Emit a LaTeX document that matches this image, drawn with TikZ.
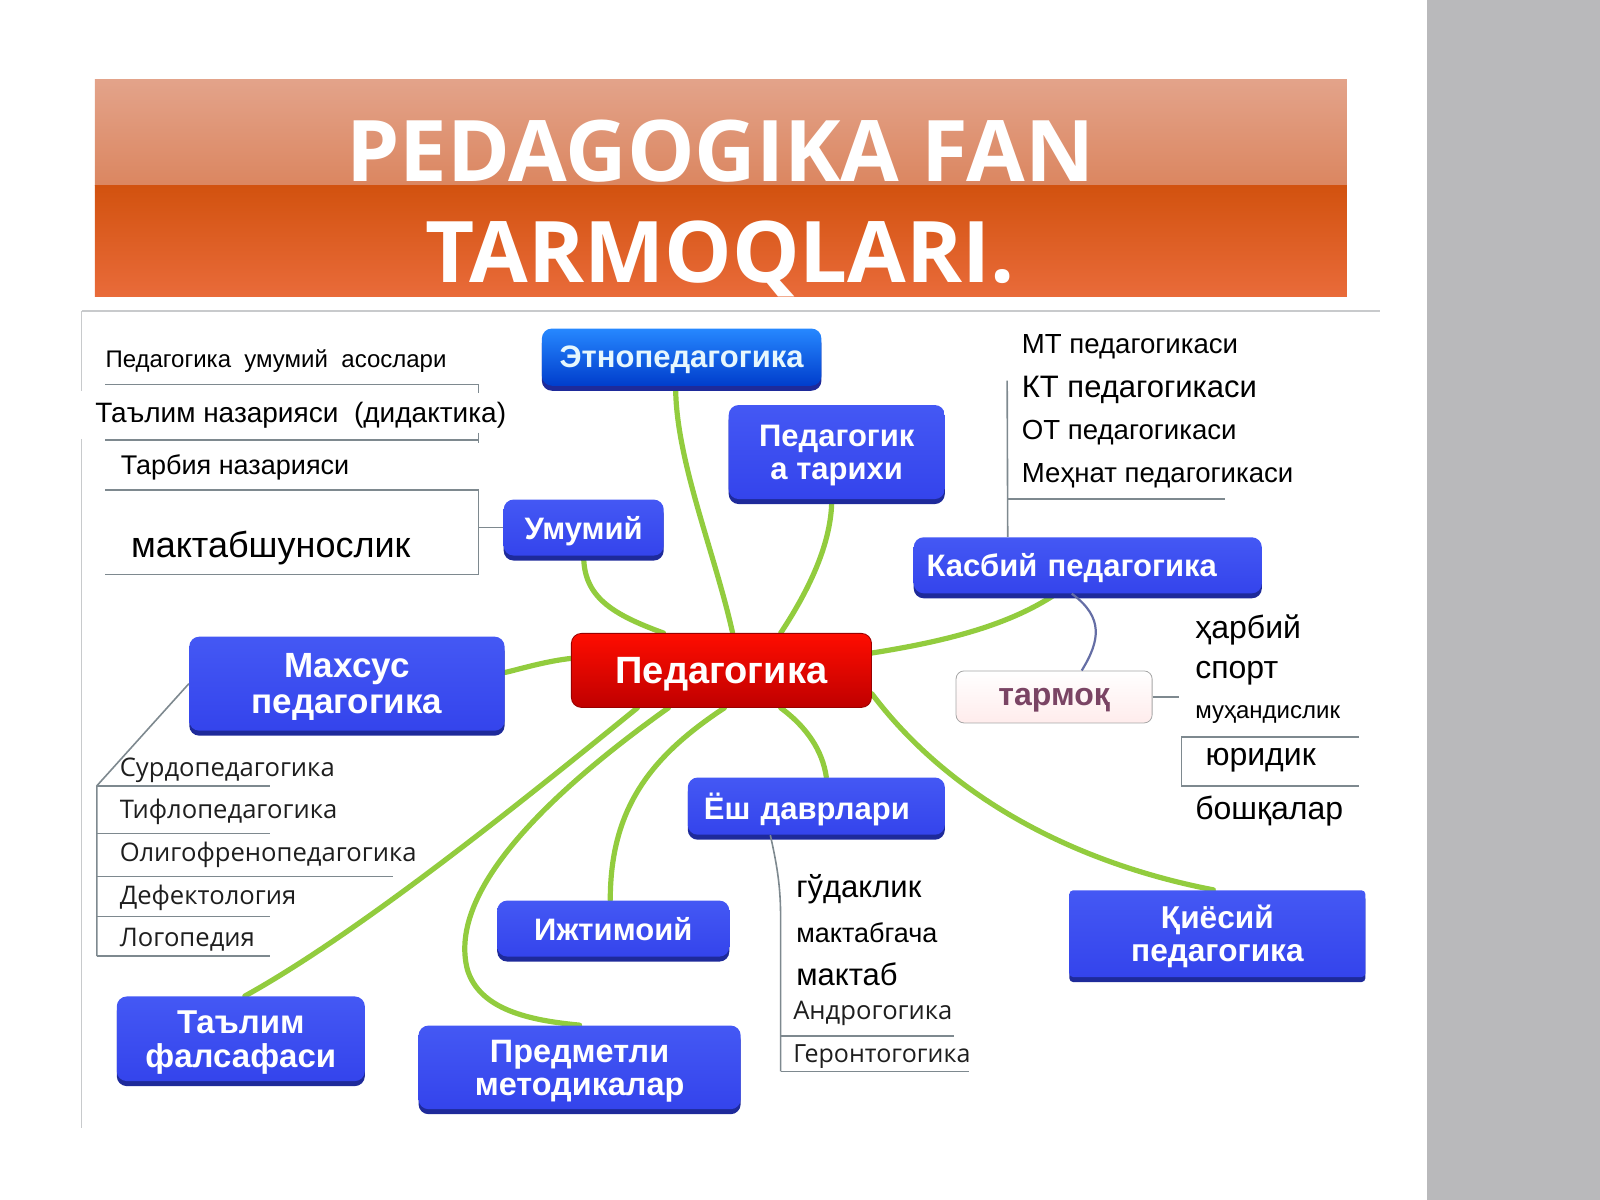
\documentclass[tikz,border=0pt]{standalone}
\usepackage{fontspec}
\setmainfont{Liberation Sans}
\newfontfamily\titlefont{Open Sans}
\newfontfamily\listfont{Open Sans}
\usepackage{tikz}
\usetikzlibrary{shadows,backgrounds}
\definecolor{boxblue}{HTML}{3444EC}
\definecolor{boxtop}{HTML}{4458F4}
\definecolor{boxshade}{HTML}{1E2A9A}
\definecolor{twiggreen}{HTML}{92CC3E}
\definecolor{rulegray}{HTML}{7E898F}
\definecolor{listgray}{HTML}{1E1E1E}
\definecolor{sidebar}{HTML}{B9B9BB}
\definecolor{framegray}{HTML}{C8CACC}
\definecolor{salmontop}{HTML}{E3A38A}
\definecolor{salmonlow}{HTML}{DB8660}
\definecolor{rusttop}{HTML}{D2520F}
\definecolor{rustlow}{HTML}{E96B3A}
\definecolor{mauve}{HTML}{7A4464}

\begin{document}
\begin{tikzpicture}[x=0.51pt, y=-0.51pt,
		every node/.style={inner sep=0pt},
		branch/.style={
				rectangle, rounded corners=5pt, align=center, text=white, text depth=0pt,
				top color=boxtop, bottom color=boxblue,
				font=\fontsize{15.5}{16.5}\selectfont\bfseries,
				drop shadow={shadow xshift=0pt, shadow yshift=-2.5pt, fill=boxshade, opacity=1}
			},
		root/.style={
				rectangle, rounded corners=5pt, draw=red!60!black, text=white, text depth=0pt,
				top color=red!90!orange, bottom color=red!75!black,
				font=\fontsize{19}{21}\selectfont\bfseries
			},
		headline/.style={text=white, font=\titlefont\bfseries\fontsize{42.5}{45}\selectfont},
		twig/.style={draw=twiggreen, line width=2.6pt, line cap=round},
		rule/.style={draw=rulegray, line width=0.8pt},
		leaf/.style={anchor=west, text=black},
		subleaf/.style={anchor=west, text=listgray, font=\listfont\fontsize{12.8}{15}\selectfont}
	]
	\useasboundingbox (0,0) rectangle (1568,1176);
	\fill[sidebar] (1398,0) rectangle (1568,1176);

	% titolo
	\shade[top color=salmontop, bottom color=salmonlow] (93,78) rectangle (1320,182);
	\shade[top color=rusttop, bottom color=rustlow] (93,182) rectangle (1320,291);
	\node (title1) [headline] at (706,148) {PEDAGOGIKA FAN};
	\node (title2) [headline] at (706,254) {TARMOQLARI.};

	\draw[framegray, line width=0.8pt] (80,305) -- (1352,305);
	\draw[framegray, line width=0.8pt] (80,305) -- (80,383) (80,430) -- (80,1105);

	\node (ped) [root, minimum width=150pt, minimum height=37pt] at (707,657) {Педагогика};
	\node (etno) [branch, top color=cyan!45!blue!85, bottom color=blue!70!cyan!80!black, text=cyan!10,
		minimum width=139.7pt, minimum height=28.6pt] at (668,350) {Этнопедагогика};
	\node (tarixi) [branch, minimum width=108pt, minimum height=47pt] at (820,443) {Педагогик\\а тарихи};
	\node (umumiy) [branch, minimum width=80pt, minimum height=28pt] at (572,517) {Умумий};
	\node (kasbiy) [branch, minimum width=174pt, minimum height=28pt, text width=161pt, align=left,
		inner xsep=6.5pt] at (1066,554) {Касбий педагогика};
	\node (maxsus) [branch, minimum width=157.6pt, minimum height=47pt,
		font=\fontsize{17.5}{18}\selectfont\bfseries] at (340,670) {Махсус\\педагогика};
	\node (tarmoq) [rectangle, rounded corners=4pt, draw=gray!70, top color=white, bottom color=pink!30,
		text=mauve, text depth=0pt, font=\fontsize{16}{18}\selectfont\bfseries,
		minimum width=98pt, minimum height=26pt] at (1033,683) {тармоқ};
	\node (yosh) [branch, minimum width=128.5pt, minimum height=28.6pt, text width=112.5pt, align=left,
		inner xsep=8pt] at (800,790) {Ёш даврлари};
	\node (ijtimoiy) [branch, minimum width=116pt, minimum height=28pt] at (601,910) {Ижтимоий};
	\node (qiyosiy) [branch, rounded corners=2pt, minimum width=148pt, minimum height=43.4pt,
		font=\fontsize{15.8}{16.5}\selectfont\bfseries] at (1193,915) {Қиёсий\\педагогика};
	\node (falsafa) [branch, minimum width=124pt, minimum height=42.3pt,
		font=\fontsize{16.5}{17}\selectfont\bfseries] at (236,1018) {Таълим\\фалсафаси};
	\node (metodika) [branch, minimum width=161pt, minimum height=41.8pt,
		font=\fontsize{16.2}{16.5}\selectfont\bfseries] at (568,1046) {Предметли\\методикалар};

	\begin{scope}[on background layer]
		\draw[twig] ([xshift=5.6pt]ped.north) .. controls (700,540) and (662,450) .. ([xshift=-3pt]etno.south);
		\draw[twig] ([xshift=29.6pt]ped.north) .. controls (795,575) and (815,530) .. ([xshift=-2.5pt]tarixi.south);
		\draw[twig] ([xshift=-29pt]ped.north) .. controls (600,602) and (572,585) .. (umumiy.south);
		\draw[twig] ([yshift=8.7pt]ped.east) .. controls (930,628) and (990,612) .. ([xshift=-15.8pt]kasbiy.south);
		\draw[twig] ([yshift=6pt]ped.west) .. controls (535,648) and (512,655) .. ([yshift=5.6pt]maxsus.east);
		\draw[twig] ([xshift=29.6pt]ped.south) .. controls (790,712) and (806,735) .. ([xshift=5pt]yosh.north);
		\draw[twig] ([xshift=1.5pt]ped.south) .. controls (640,740) and (598,790) .. ([xshift=-1.5pt]ijtimoiy.north);
		\draw[twig] ([xshift=-26.5pt]ped.south) .. controls (520,790) and (440,880) .. (458,950)
			.. controls (470,990) and (520,1000) .. (metodika.north);
		\draw[twig] ([xshift=-42pt]ped.south) .. controls (500,795) and (350,915) .. ([xshift=2pt]falsafa.north);
		\draw[twig] ([yshift=-11.7pt]ped.east) .. controls (930,780) and (1050,845) .. ([xshift=-2pt]qiyosiy.north);
	\end{scope}

	% Umumiy
	\coordinate (umumiyjoin) at (469,517);
	\draw[rule] (umumiy.west) -- (umumiyjoin);
	\draw[rule] (469,480) -- (469,563) (469,377) -- (469,385) (469,424) -- (469,434);
	\node (asos) [leaf, font=\fontsize{12}{14}\selectfont] at (103,354) {Педагогика\ \ умумий\ \ асослари};
	\draw[rule] (103,377) -- (469,377);
	\node (didaktika) [leaf, font=\fontsize{14}{15}\selectfont] at (93,407) {Таълим назарияси\ \ (дидактика)};
	\draw[rule] (103,431) -- (469,431);
	\node (tarbiya) [leaf, font=\fontsize{13.5}{15}\selectfont] at (118,458) {Тарбия назарияси};
	\draw[rule] (103,480) -- (469,480);
	\node (maktabsh) [leaf, font=\fontsize{18}{20}\selectfont] at (128,537) {мактабшунослик};
	\draw[rule] (103,563) -- (469,563);

	% Kasbiy
	\coordinate (kasbiytop) at (987,373);
	\draw[rule] ([xshift=-40pt]kasbiy.north) -- (kasbiytop);
	\draw[rule] (987,489) -- (1200,489);
	\node (mt) [leaf, font=\fontsize{13.8}{15}\selectfont] at (1001,340) {МТ педагогикаси};
	\node (kt) [leaf, font=\fontsize{15.5}{17}\selectfont] at (1001,382) {КТ педагогикаси};
	\node (ot) [leaf, font=\fontsize{13.8}{15}\selectfont] at (1001,424) {ОТ педагогикаси};
	\node (mehnat) [leaf, font=\fontsize{13.8}{15}\selectfont] at (1001,466) {Меҳнат педагогикаси};

	% tarmoq
	\coordinate (tarmoqjoin) at (1155,683);
	\draw[rulegray!80!blue, line width=1.1pt] ([xshift=-8pt]kasbiy.south) .. controls (1082,605) and (1078,628) .. ([xshift=13.8pt]tarmoq.north);
	\draw[rule] (tarmoq.east) -- (tarmoqjoin);
	\node (harbiy) [leaf, font=\fontsize{16}{18}\selectfont] at (1171,617) {ҳарбий};
	\node (sport) [leaf, font=\fontsize{16}{18}\selectfont] at (1171,660) {спорт};
	\node (muhand) [leaf, font=\fontsize{12}{14}\selectfont] at (1171,700) {муҳандислик};
	\draw[rule] (1332,722) -- (1158,722) -- (1158,770) -- (1332,770);
	\node (yuridik) [leaf, font=\fontsize{16}{18}\selectfont] at (1181,745) {юридик};
	\node (boshqa) [leaf, font=\fontsize{16}{18}\selectfont] at (1171,795) {бошқалар};

	% Maxsus
	\coordinate (maxsusjoin) at (95,770);
	\draw[rule] (maxsus.west) -- (maxsusjoin) -- (95,937);
	\node (surdo) [subleaf] at (117,755) {Сурдопедагогика};
	\draw[rule] (95,770) -- (265,770);
	\node (tiflo) [subleaf] at (117,796) {Тифлопедагогика};
	\draw[rule] (95,817) -- (265,817);
	\node (oligo) [subleaf] at (117,838) {Олигофренопедагогика};
	\draw[rule] (95,859) -- (385,859);
	\node (defekt) [subleaf] at (117,880) {Дефектология};
	\draw[rule] (95,898) -- (265,898);
	\node (logo) [subleaf] at (117,921) {Логопедия};
	\draw[rule] (95,937) -- (265,937);

	% Yosh
	\coordinate (yoshjoin) at (765,900);
	\draw[rule] ([xshift=-23pt]yosh.south) .. controls (762,850) and (765,870) .. (yoshjoin) -- (765,1050);
	\node (gudak) [leaf, font=\fontsize{15.5}{17}\selectfont] at (780,871) {гўдаклик};
	\node (maktabgacha) [leaf, font=\fontsize{13.5}{15}\selectfont] at (780,914) {мактабгача};
	\node (maktab) [leaf, font=\fontsize{15.5}{17}\selectfont] at (780,955) {мактаб};
	\node (andro) [subleaf] at (777,993) {Андрогогика};
	\draw[rule] (765,1015) -- (935,1015);
	\node (geronto) [subleaf, font=\listfont\fontsize{12.5}{14}\selectfont] at (777,1035) {Геронтогогика};
	\draw[rule] (765,1050) -- (950,1050);
\end{tikzpicture}
\end{document}
